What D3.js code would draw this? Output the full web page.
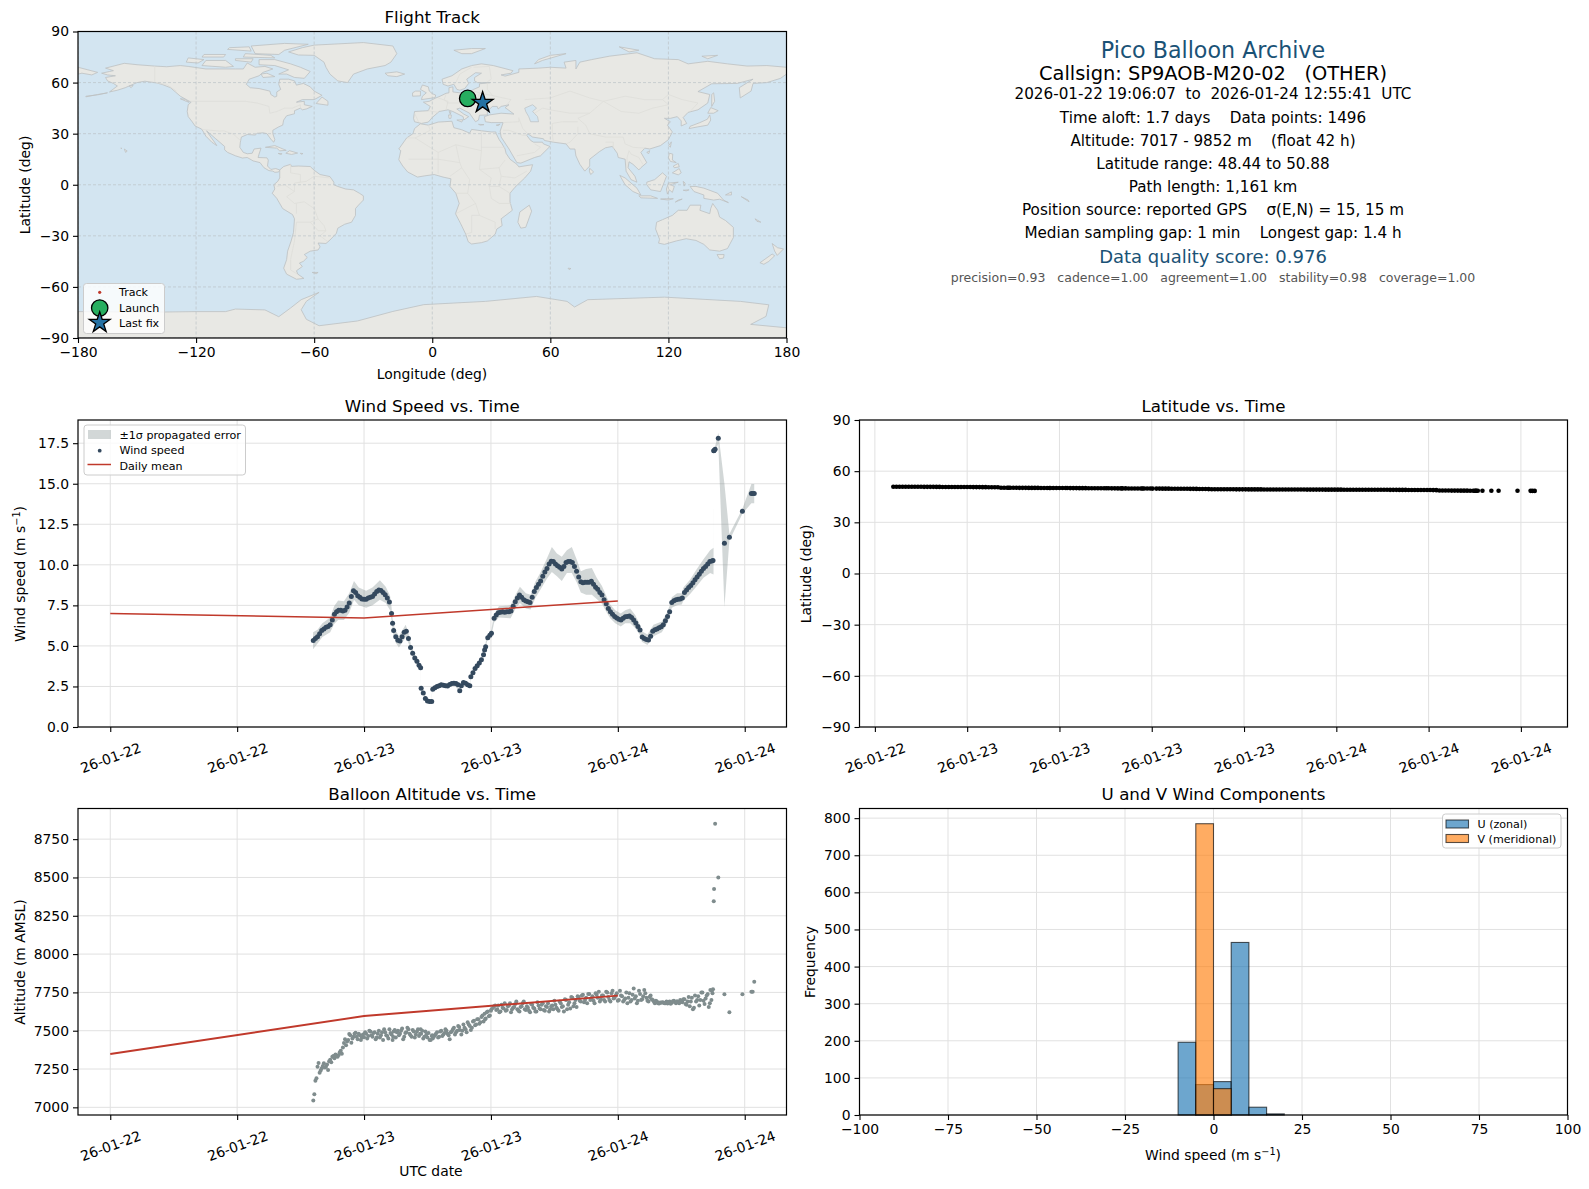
<!DOCTYPE html>
<html>
<head>
<meta charset="utf-8">
<script src="https://cdnjs.cloudflare.com/ajax/libs/d3/7.8.5/d3.min.js"></script>
<style>
body { margin: 0; background: #fff; }
text { font-family: "DejaVu Sans", sans-serif; fill: #000; }
.domain { display: none; }
.tick line { stroke: #000; stroke-width: 1.1; }
.tick text { font-size: 13.9px; }
</style>
</head>
<body>
<div id="chart"></div>
<script>
// time of each fix, hours after 2026-01-22 00:00 UTC
const hours = [
  19.2,19.4,19.6,19.8,20,20.2,20.4,20.6,20.8,21,
  21.2,21.4,21.6,21.8,22,22.2,22.4,22.6,22.8,23,
  23.2,23.4,23.6,23.8,24,24.2,24.4,24.6,24.8,25,
  25.2,25.4,25.6,25.8,26,26.2,26.4,26.6,26.7,26.8,
  27,27.2,27.4,27.6,27.8,28,28.2,28.4,28.6,28.8,
  29,29.2,29.35,29.4,29.6,29.8,30,30.2,30.4,30.5,
  30.7,30.9,31.1,31.3,31.5,31.7,31.9,32.1,32.3,32.5,
  32.7,32.9,33.05,33.2,33.4,33.6,33.8,34,34.1,34.3,
  34.5,34.7,34.9,35.1,35.3,35.4,35.5,35.7,35.9,36.05,
  36.3,36.5,36.7,36.9,37.1,37.3,37.5,37.7,37.9,38.1,
  38.3,38.5,38.7,38.9,39.1,39.3,39.5,39.7,39.9,40.1,
  40.3,40.5,40.7,40.9,41.1,41.3,41.5,41.7,41.9,42.1,
  42.3,42.5,42.7,42.9,43.1,43.3,43.5,43.7,43.9,44.1,
  44.3,44.5,44.7,44.9,45.1,45.3,45.5,45.7,45.9,46.1,
  46.3,46.5,46.7,46.9,47.1,47.3,47.5,47.7,47.9,48.1,
  48.3,48.5,48.7,48.9,49.1,49.3,49.5,49.7,49.9,50.1,
  50.3,50.5,50.7,50.9,51.1,51.3,51.5,51.7,51.9,52.1,
  52.3,52.5,52.7,52.9,53.1,53.3,53.5,53.7,53.9,54.1,
  54.3,54.5,54.7,54.9,55.1,55.3,55.5,55.7,55.9,56.1,
  56.3,56.5,56.7,56.9,57,57.07,57.1,57.2,57.5,58.08,
  58.55,59.78,60.63,60.75,60.9
];
const windSpeed = [
  5.33,5.45,5.57,5.75,5.95,6.05,6.15,6.2,6.3,6.6,
  6.95,7.1,7.2,7.2,7.15,7.2,7.4,7.65,8.05,8.4,
  8.3,8.1,8,7.9,7.87,7.87,7.95,8,8.05,8.2,
  8.35,8.45,8.42,8.3,8.15,7.95,7.7,7,6.4,5.95,
  5.57,5.35,5.3,5.57,5.85,5.9,5.45,4.9,4.55,4.25,
  4.05,3.8,3.66,2.39,2.1,1.75,1.6,1.58,1.57,2.33,
  2.42,2.49,2.55,2.6,2.58,2.55,2.53,2.62,2.68,2.7,
  2.68,2.6,2.24,2.55,2.74,2.7,2.6,2.55,3.1,3.35,
  3.6,3.78,3.95,4.15,4.45,4.75,4.95,5.5,5.65,5.78,
  6.7,6.9,7.05,7.08,7.1,7.08,7.1,7.1,7.15,7.45,
  7.73,7.95,8.14,8,7.85,7.77,7.72,7.68,8,8.35,
  8.6,8.8,9,9.3,9.55,9.78,10.05,10.22,10.2,10.05,
  9.95,9.85,9.74,9.9,10.15,10.2,10.2,10.15,9.9,9.6,
  9.25,8.96,8.9,8.92,8.92,8.93,8.98,8.8,8.62,8.5,
  8.3,8.14,7.85,7.6,7.3,7.1,6.95,6.82,6.72,6.65,
  6.6,6.7,6.8,6.82,6.85,6.75,6.6,6.42,6.2,5.98,
  5.55,5.45,5.4,5.37,5.6,5.9,6,6.05,6.12,6.18,
  6.3,6.55,6.82,7.1,7.67,7.78,7.85,7.88,7.9,7.95,
  8.3,8.45,8.6,8.72,8.9,9.08,9.25,9.42,9.6,9.78,
  9.9,10.05,10.2,10.24,10.26,17.04,17.05,17.12,17.8,11.33,
  11.7,13.3,14.4,14.4,14.4
];
const latitude = [
  50.88,50.87,50.87,50.86,50.85,50.85,50.84,50.83,50.83,50.82,
  50.81,50.8,50.8,50.79,50.78,50.77,50.76,50.75,50.75,50.74,
  50.73,50.72,50.71,50.7,50.69,50.68,50.67,50.66,50.65,50.64,
  50.62,50.6,50.58,50.56,50.54,50.3,50.28,50.27,50.26,50.25,
  50.25,50.24,50.23,50.22,50.21,50.2,50.2,50.19,50.18,50.17,
  50.17,50.16,50.15,50.14,50.13,50.12,50.11,50.1,50.1,50.09,
  50.08,50.07,50.06,50.05,50.04,50.03,50.02,50.01,50,49.98,
  49.97,49.96,49.95,49.94,49.93,49.92,49.91,49.9,49.9,49.89,
  49.88,49.87,49.86,49.85,49.84,49.83,49.82,49.81,49.8,49.79,
  49.78,49.77,49.76,49.75,49.74,49.73,49.72,49.71,49.7,49.68,
  49.66,49.64,49.62,49.6,49.58,49.56,49.54,49.5,49.42,49.41,
  49.4,49.39,49.38,49.38,49.37,49.36,49.35,49.34,49.34,49.33,
  49.32,49.32,49.31,49.3,49.3,49.29,49.28,49.28,49.27,49.26,
  49.26,49.25,49.25,49.24,49.23,49.23,49.22,49.22,49.21,49.2,
  49.2,49.19,49.19,49.18,49.18,49.17,49.17,49.16,49.16,49.15,
  49.15,49.14,49.14,49.13,49.13,49.12,49.12,49.11,49.11,49.1,
  49.1,49.09,49.09,49.08,49.08,49.07,49.06,49.05,49.04,49.03,
  49.02,49.01,49,48.99,48.98,48.97,48.96,48.95,48.94,48.92,
  48.9,48.88,48.66,48.65,48.64,48.63,48.62,48.61,48.6,48.59,
  48.58,48.57,48.56,48.55,48.55,48.54,48.54,48.53,48.53,48.52,
  48.52,48.48,48.45,48.44,48.44
];
const altitude = [
  7044,7174,7265,7225,7255,7287,7265,7244,7310,7330,
  7320,7335,7342,7370,7391,7444,7430,7479,7422,7460,
  7487,7445,7470,7455,7457,7480,7465,7495,7460,7490,
  7455,7500,7470,7440,7490,7465,7510,7475,7440,7495,
  7455,7500,7480,7515,7460,7490,7510,7470,7505,7455,
  7495,7465,7510,7480,7450,7495,7455,7440,7465,7450,
  7470,7490,7460,7500,7475,7510,7480,7445,7495,7520,
  7490,7530,7505,7475,7540,7510,7555,7530,7505,7560,
  7535,7575,7545,7590,7560,7610,7580,7625,7600,7640,
  7660,7635,7665,7625,7650,7680,7635,7665,7620,7650,
  7675,7640,7625,7660,7690,7635,7650,7620,7670,7645,
  7625,7665,7640,7680,7630,7655,7625,7660,7640,7670,
  7640,7690,7655,7625,7700,7670,7645,7715,7680,7655,
  7720,7690,7735,7700,7680,7740,7710,7695,7745,7715,
  7690,7730,7700,7755,7720,7690,7760,7715,7745,7700,
  7730,7690,7710,7680,7745,7700,7775,7725,7695,7740,
  7705,7765,7715,7690,7730,7700,7680,7690,7678,7682,
  7684,7680,7678,7690,7682,7695,7680,7688,7700,7685,
  7705,7670,7720,7690,7640,7730,7700,7665,7750,7695,
  7710,7740,7680,7760,7770,8345,8425,8850,8500,7738,
  7620,7738,7755,7755,7820
];
// further altitude fixes, so the dense cloud is as thick as in the picture
const altHours2 = [
  19.3,19.5,19.7,19.9,20.1,20.3,20.5,20.7,20.9,21.1,
  21.3,21.5,21.7,21.9,22.1,22.3,22.5,22.7,22.9,23.1,
  23.3,23.5,23.7,23.9,24.1,24.3,24.5,24.7,24.9,25.1,
  25.3,25.5,25.7,25.9,26.1,26.3,26.5,26.75,26.9,27.1,
  27.3,27.5,27.7,27.9,28.1,28.3,28.5,28.7,28.9,29.1,
  29.3,29.5,29.7,29.9,30.1,30.3,30.45,30.6,30.8,31,
  31.2,31.4,31.6,31.8,32,32.2,32.4,32.6,32.8,33,
  33.3,33.5,33.7,33.9,34.2,34.4,34.6,34.8,35,35.2,
  35.45,35.6,35.8,36,36.2,36.4,36.6,36.8,37,37.2,
  37.4,37.6,37.8,38,38.2,38.4,38.6,38.8,39,39.2,
  39.4,39.6,39.8,40,40.2,40.4,40.6,40.8,41,41.2,
  41.4,41.6,41.8,42,42.2,42.4,42.6,42.8,43,43.2,
  43.4,43.6,43.8,44,44.2,44.4,44.6,44.8,45,45.2,
  45.4,45.6,45.8,46,46.2,46.4,46.6,46.8,47,47.2,
  47.4,47.6,47.8,48,48.2,48.4,48.6,48.8,49,49.2,
  49.4,49.6,49.8,50,50.2,50.4,50.6,50.8,51,51.2,
  51.4,51.6,51.8,52,52.2,52.4,52.6,52.8,53,53.2,
  53.4,53.6,53.8,54,54.2,54.4,54.6,54.8,55,55.2,
  55.4,55.6,55.8,56,56.2,56.4,56.6,56.75,56.85,56.95
];
const altitude2 = [
  7085,7190,7290,7240,7270,7260,7280,7300,7295,7335,
  7345,7330,7360,7350,7420,7405,7440,7470,7450,7480,
  7460,7480,7440,7475,7490,7450,7500,7470,7485,7445,
  7480,7455,7490,7510,7470,7450,7485,7460,7505,7490,
  7470,7500,7445,7485,7520,7480,7460,7495,7475,7510,
  7480,7500,7460,7475,7485,7440,7470,7460,7480,7455,
  7495,7465,7485,7500,7470,7490,7510,7475,7500,7525,
  7500,7520,7490,7540,7520,7565,7540,7575,7555,7600,
  7575,7620,7595,7630,7650,7665,7640,7620,7670,7645,
  7630,7660,7680,7640,7655,7690,7630,7655,7680,7640,
  7660,7630,7675,7650,7625,7685,7645,7670,7635,7660,
  7680,7640,7665,7695,7650,7630,7680,7660,7705,7640,
  7685,7720,7660,7700,7725,7695,7730,7685,7715,7740,
  7700,7725,7680,7735,7755,7705,7730,7690,7750,7700,
  7745,7710,7730,7695,7760,7725,7700,7750,7715,7690,
  7735,7710,7680,7760,7700,7725,7745,7695,7720,7705,
  7690,7695,7680,7684,7686,7679,7690,7682,7676,7692,
  7685,7692,7680,7695,7705,7675,7690,7660,7715,7650,
  7690,7725,7700,7750,7675,7730,7655,7765,7700,7745
];

// +/- 1 sigma band around the wind speed
const bandHours = [19.18,19.6,20.06,20.8,21.17,21.55,22.1,22.6,23.05,23.5,24.2,24.8,25.5,26.05,26.46,26.6,26.74,27,27.3,27.6,27.94,28.25,28.47,28.9,29.35,29.39,29.7,29.98,30.36,30.46,31.4,32.5,33.04,33.4,34,34.1,34.55,35.2,35.4,35.66,36.03,36.3,36.75,37.86,38.33,38.74,39.3,39.75,40.2,40.66,41.3,41.76,42.24,42.7,43.18,43.65,44.13,44.5,45,45.54,46,46.5,46.96,47.28,47.75,48.28,48.7,49.17,49.64,50.1,50.27,50.8,51.37,52.16,52.63,52.95,53.1,53.6,54.05,54.2,54.84,55.47,56.1,56.73,57.05,57.07,57.2,57.5,58.08,58.55,59.78,60.63,60.9];
const bandLow = [4.8,5.15,5.55,5.85,6.35,6.6,6.6,7.05,7.85,7.5,7.35,7.5,7.85,7.65,7.2,6.6,5.75,5.2,4.9,5.2,5.55,5.1,4.55,3.95,3.55,2.3,1.9,1.55,1.52,2.25,2.52,2.62,2.16,2.66,2.47,3,3.5,4.08,4.6,5.35,5.6,6.45,6.75,6.7,7.3,7.65,7.3,7.25,7.95,8.45,9.15,9.55,9.3,9,9.5,9.5,8.9,8.3,8.15,8.15,7.9,7.6,7.05,6.7,6.4,6.2,6.4,6.4,6.1,5.65,5.25,5.05,5.6,5.85,6.35,6.85,7.35,7.5,7.55,7.8,8.2,8.7,9.2,9.5,9.4,16.95,17,17.45,7.4,11.5,13.15,13.8,13.8];
const bandHigh = [5.85,6,6.4,6.75,7.45,7.8,7.75,8.25,9,8.6,8.4,8.6,9.05,8.65,8.1,7.4,6.4,5.95,5.6,5.95,6.3,5.65,4.95,4.3,3.77,2.48,2.06,1.67,1.62,2.4,2.66,2.78,2.32,2.82,2.63,3.2,3.74,4.4,4.9,5.7,5.96,6.95,7.45,7.5,8.15,8.65,8.25,8.15,8.95,9.5,10.4,11.1,10.7,10.5,10.9,11.1,10.3,9.6,9.75,9.8,9.2,8.7,8,7.55,7.2,7,7.2,7.3,6.9,6.3,5.9,5.7,6.3,6.5,7.05,7.55,8,8.25,8.25,8.6,9.1,9.75,10.35,10.9,11.05,17.15,17.3,18.15,15,11.9,13.45,14.98,14.98];

// daily means, plotted at 00:00 of each day
const dailyHours = [0, 24, 48];
const dailyWind = [7.0, 6.72, 7.77];
const dailyAlt = [7348, 7596, 7729];

const wideTicks = [0, 12, 24, 36, 48, 60];
const latTimeTicks = [18, 24, 30, 36, 42, 48, 54, 60];
const windTicks = [0, 2.5, 5, 7.5, 10, 12.5, 15, 17.5];
const latTicks = [-90, -60, -30, 0, 30, 60, 90];
const lonTicks = [-180, -120, -60, 0, 60, 120, 180];
const altTicks = [7000, 7250, 7500, 7750, 8000, 8250, 8500, 8750];
const histXTicks = [-100, -75, -50, -25, 0, 25, 50, 75, 100];
const histYTicks = [0, 100, 200, 300, 400, 500, 600, 700, 800];

// histogram counts, bins from -100 in steps of 5
const binStarts = [-100,-95,-90,-85,-80,-75,-70,-65,-60,-55,-50,-45,-40,-35,-30,-25,-20,-15,-10,-5,0,5,10,15,20,25,30,35,40,45,50,55,60,65,70,75,80,85,90,95];
const uCounts = [0,0,0,0,0,0,0,0,0,0,0,0,0,0,0,0,0,0,196,82,90,465,21,3,0,0,0,0,0,0,0,0,0,0,0,0,0,0,0,0];
const vCounts = [0,0,0,0,0,0,0,0,0,0,0,0,0,0,0,0,0,0,0,785,71,0,0,0,0,0,0,0,0,0,0,0,0,0,0,0,0,0,0,0];

// ground track
const trackLon = [18, 19.2, 20.4, 21.6, 22.8, 24, 25.6];
const trackLat = [50.7, 50.3, 49.9, 49.5, 49.2, 48.9, 48.2];
const launchPoint = [18, 50.7];
const lastFixPoint = [25.6, 48.2];

// coastlines, lon/lat, traced by eye
const northAmerica = [[-168,65.5],[-164,66.5],[-162,67],[-166,68.5],[-156.5,71.3],[-150,70.5],[-141,69.7],[-135,69.3],[-128,70],[-124,69.5],[-115,68],[-108,68],[-100,68],[-96,68],[-94,71.5],[-90,69],[-85,69.5],[-81,68],[-86,66],[-88,64],[-93,62],[-94.5,59],[-92.5,57],[-88,56.5],[-82.5,55],[-82,53],[-80,51.5],[-79,52],[-79,54.5],[-77,56],[-78,59],[-77.5,62],[-73,62],[-70,61],[-69,58.5],[-65.5,59.5],[-62,57.5],[-60,55],[-56,52.5],[-60,50],[-66,50],[-69,48.5],[-65,49],[-65,47],[-61,46],[-64,44.5],[-66,44],[-67,45],[-70,43.5],[-70,41.7],[-74,40.5],[-75.5,38],[-76,35],[-78,34],[-81,32],[-81,30],[-80,26.5],[-80.5,25],[-81.5,26],[-82.8,28],[-84,30],[-86,30.5],[-89,30.2],[-90,29.2],[-94,29.5],[-97,28],[-97.5,25],[-97.8,22],[-96,19],[-94,18.2],[-91.5,18.5],[-90.5,21],[-87,21.5],[-88,18],[-88.5,16],[-84,15.8],[-83.3,14.5],[-83.7,11],[-82,9],[-79.5,9.5],[-77.5,8.7],[-78,7.5],[-80,7.3],[-81,8],[-83,8.3],[-85.5,10],[-87.5,13],[-91,14],[-94,16],[-96.5,15.7],[-100,17],[-104,19],[-105.5,20.5],[-105.5,22.5],[-108,25],[-110,27],[-112.5,29.5],[-114.7,31.7],[-112.5,28],[-110,24],[-109.5,23],[-112,25],[-115,28.5],[-116.5,31.5],[-117.2,32.7],[-120.5,34.5],[-122,37],[-124,40],[-124.5,43],[-124,47],[-122.5,48.5],[-125,50],[-128,52],[-130.5,54.5],[-133,57],[-137,58.8],[-140,59.8],[-146,60.8],[-150,60],[-152,59],[-156,57],[-160,55.5],[-164,54.5],[-160,58],[-162,59.5],[-165,61],[-166,63],[-161,64],[-165,64.5]];
const greenland = [[-73,78],[-66,80.5],[-60,82],[-35,83.5],[-20,81.5],[-18,77],[-21,72],[-24,70],[-33,68],[-40,65],[-43,60],[-48,61],[-52,65],[-54,69],[-55,72],[-60,76],[-68,76.2]];
const southAmerica = [[-77.5,8.7],[-75.5,10.7],[-72,12],[-71.5,10.8],[-68,11],[-62,10.7],[-60,8.5],[-57,6],[-52,4.8],[-50,1.5],[-50,0],[-48,-1],[-44,-2.5],[-40,-3],[-37,-5],[-35,-6.5],[-35,-9],[-37.5,-12],[-39,-14],[-39,-18],[-41,-22],[-44.5,-23.2],[-48,-25.5],[-48.7,-28.5],[-52,-32.5],[-54,-34.5],[-58,-34.2],[-57,-36.5],[-58,-38.3],[-62,-39],[-65,-41],[-63.5,-42.7],[-65.5,-45],[-67.5,-46],[-66,-48],[-69,-50.5],[-68.3,-52.5],[-65.2,-55],[-69,-55.5],[-74,-52.5],[-75.5,-49],[-74,-44],[-73.5,-39],[-71.7,-33],[-70.5,-28],[-70,-20],[-71,-17.5],[-76,-14],[-79,-8],[-81.3,-5],[-80,-2.5],[-80.5,0],[-78.5,2],[-77.5,4],[-77.5,7]];
const africa = [[-6,35.8],[-2,35],[3,36.8],[10,37.3],[11,33.5],[15,32.3],[19,30.3],[20,32.5],[25,31.7],[30,31],[32.3,31],[32.5,30],[34,26.5],[35.5,24],[37,21],[37.5,18.5],[39.5,15],[43,12],[44,10.5],[51,11.8],[50,8],[47,4],[42,-1.5],[39.5,-5],[39.5,-10],[40.7,-15],[35,-20],[35.5,-24],[32.8,-26],[32,-29],[28,-33],[25,-34],[20,-34.8],[18.3,-33.5],[17,-29],[14.5,-23],[11.8,-17],[13.7,-11],[12,-5],[9,-1],[9.5,3.5],[5.5,4.5],[1,6],[-4,5.2],[-7.5,4.5],[-12.5,7.5],[-15,11],[-17,14.7],[-16,20],[-17,21],[-13,27.5],[-9.8,30],[-9,33]];
const eurasia = [[-5.5,36],[-9,37],[-9.5,39],[-9,43],[-2,43.5],[-1,46],[-4.5,48.5],[-1.5,49],[1.5,50.8],[4,52],[7,53.7],[8.5,54],[8.5,57],[10.5,57.5],[10.5,54.5],[14,54],[19,54.5],[21,56],[24,57.5],[24,59.3],[29.5,60],[23,60],[21.5,61],[21.5,63],[25,65.5],[22,65.8],[17.5,62],[18.5,59.5],[16.5,56.5],[14,55.5],[12.5,56],[11,59],[8,58],[5.5,59],[5,62],[10,64],[15,68],[20,70],[25,71],[31,70],[41,67],[40,65.5],[35,64.5],[37,63.8],[44,66],[44,68],[54,68.5],[60,69],[68,68.5],[67,72],[73,73],[73,68],[75,72],[81,73.5],[90,75.5],[104,77.5],[113,74],[125,73.5],[130,71],[140,72.5],[150,71],[160,69.7],[170,70],[180,69],[180,65],[177,62.5],[170,60],[163,59.5],[162,55],[156.5,51],[156,57],[163,62],[155,59.5],[142,59.3],[135,54.7],[141,53],[140,48],[135,44],[130,42.5],[127.5,39.5],[129.3,36],[126.5,34.5],[126.5,37.5],[124.5,40],[121,39],[118,39],[121,37],[119.5,35],[122,31],[120,26.5],[116,23],[110.5,21],[108,21.5],[106,19],[109,13],[106,10],[105,8.7],[102,12],[100,13.5],[99.5,10],[103,5],[104,1.5],[101,3],[98.5,8],[98,15],[94.5,16],[94,18.5],[91.5,22.5],[88,21.7],[85,19.5],[80,15],[80,11],[77.5,8],[75,12],[73,17],[72.5,21],[70,21],[68,24],[61.5,25],[57,26],[56.5,27],[51,28],[48.5,30],[48,29],[50,26],[51.5,25],[56,25],[56.5,24],[59.8,22.5],[55,17],[52,16],[45,12.7],[43,13],[39,21],[35,28],[34.5,31.5],[36,36.5],[30,36.5],[27,37],[26.5,40],[29,41],[35,42],[41.5,41.5],[38,44.5],[37,45.3],[39,47],[35,46],[33.5,44.5],[33,46],[30.5,46],[28,43],[28,41],[24,40.8],[23.5,38],[22,37],[19.5,41],[19,42],[14,45],[12.5,44.5],[16,41.5],[18.5,40],[16,38],[15.7,40],[10.5,43],[8,44],[3.5,43],[0,39.5],[-2,36.8]];
const chukotka = [[-180,69],[-175,67.5],[-170,66],[-173,64.5],[-178,65.5],[-180,65]];
const australia = [[114,-22],[113.5,-26],[115.5,-32],[115,-34.3],[118,-35],[124,-33],[129,-31.7],[134,-32.7],[138,-35],[141,-38.3],[146,-39],[150,-37.5],[153,-31],[153,-25],[149,-21],[146,-19],[145,-15],[142.5,-11],[141.5,-14],[141,-17],[136,-15],[136.5,-12],[131,-12],[129.5,-15],[125,-15],[122,-18],[117,-20.5]];
const antarctica = [[-180,-90],[-180,-74.5],[-140,-74.8],[-120,-74.5],[-105,-74.5],[-100,-73],[-85,-73.5],[-78,-77.5],[-72,-72.4],[-66.6,-67.5],[-57.5,-63.2],[-64,-68.5],[-66.6,-73.4],[-64,-79],[-57.5,-82.8],[-38,-80],[-20,-74.4],[-4.3,-70.4],[27,-68.5],[53,-65.6],[68.5,-68.5],[72.3,-71.8],[79,-67.5],[118,-66],[156.6,-68.5],[171,-70.5],[169.6,-77.3],[161.8,-82],[180,-84],[180,-90]];
const islands = [
  [[-80,73.5],[-72,71],[-67,69],[-62,66.5],[-65,62.5],[-70,63],[-74,65],[-78,65],[-73,67.5],[-80,70],[-88,70.5],[-88,73.5]],
  [[-117,70],[-105,69],[-101,69.5],[-105,73],[-115,73]],
  [[-90,77],[-78,76.5],[-75,79],[-63,82.5],[-75,83],[-92,81.5]],
  [[-125,72],[-119,71.5],[-116,73.5],[-124,74.5]],
  [[-96,75],[-80,74.5],[-82,76],[-95,77]],
  [[-117,75],[-106,75],[-105,76.5],[-116,76.5]],
  [[-104,79.5],[-92,78.5],[-93,81],[-103,80.5]],
  [[-100,73],[-92,72],[-91,74],[-100,74]],
  [[-84,65.5],[-80,63.5],[-86,63],[-87,65]],
  [[-59,47.7],[-53,46.7],[-53,49],[-56,51.5]],
  [[-128,50.5],[-125,49],[-123.5,48.4],[-125.5,50.2]],
  [[-84.8,22],[-80,23],[-74.2,20.2],[-77.5,19.9],[-79,21.5]],
  [[-74.4,18.5],[-72.5,20],[-68.4,18.6],[-71.5,17.8]],
  [[-78.3,18.4],[-76.3,18.2],[-77,17.8]],
  [[-67,18.5],[-65.7,18.3],[-66.5,17.9]],
  [[-156.5,21],[-155,19.8],[-155.8,19]],
  [[-158.3,21.6],[-157.7,21.4],[-158,21.2]],
  [[-176,52],[-170,52.8],[-165,54],[-170,53],[-176,51.6]],
  [[-154,58],[-152,58.3],[-153,57]],
  [[-5.5,50],[1.5,51.2],[1.7,52.7],[0,53.5],[-1.5,55],[-2,57.5],[-5,58.6],[-6,56],[-3,54],[-5,52]],
  [[-10,52],[-6,52.2],[-6,55],[-8.5,55],[-10,54]],
  [[-24,65.5],[-18,66.3],[-14,65],[-18,63.5],[-22.5,64]],
  [[11,79],[20,80],[27,80],[20,77],[15,77]],
  [[52,71],[56,73],[68,77],[60,76],[54,73.5]],
  [[137,75.5],[145,76],[140,74]],
  [[95,81],[105,79],[100,78]],
  [[12.5,38],[15.5,38.2],[15,36.8]],
  [[8.3,41],[9.7,41],[9.5,39],[8.5,39]],
  [[8.6,43],[9.5,42.8],[9.2,41.4]],
  [[23.5,35.5],[26.3,35.3],[24.5,35]],
  [[32.5,35],[34.5,35.6],[33.5,34.7]],
  [[130.5,33],[135,34],[140,35],[141.5,38],[141,41],[139.8,38.5],[136,36.5],[131,34.3]],
  [[140,42],[141.5,45.3],[145.3,43.5],[143,42]],
  [[142,46],[143.5,49],[143,54],[142,53]],
  [[80,9.7],[82,7.5],[80.5,6],[79.8,8]],
  [[120.2,23],[121.5,25.2],[121,22]],
  [[109,19],[110.5,20],[110,18.3]],
  [[120,16],[120.5,18.5],[122.2,18],[122,14.5],[124,13],[121,13.7]],
  [[122,7],[125.5,9.5],[126.5,7],[125,5.8]],
  [[122.5,11],[125,12.5],[125.5,10.5],[123,10]],
  [[109,1.5],[113,3],[117,7],[119,5],[117.7,1],[116,-4],[111,-3],[109,0]],
  [[95.3,5.5],[98,4],[104,-2],[106,-6],[102,-4],[98,0]],
  [[105,-6.5],[111,-6.5],[114.5,-8],[106,-7.7]],
  [[116,-8.4],[119,-8.2],[122.5,-8.2],[120,-9]],
  [[119.5,-5.5],[119,-2.5],[120,1],[125,1.5],[121,0],[123,-1],[122,-4.5],[120.5,-3]],
  [[127.5,2],[128.5,1],[128,-0.8]],
  [[127.5,-3.2],[130.5,-3],[129,-3.6]],
  [[131,-1],[134,-1],[138,-2],[145,-5],[148,-9],[150.5,-10.5],[146,-8.5],[143,-9],[138,-8],[138,-6],[133,-4]],
  [[149,-6],[152,-4.2],[152,-6]],
  [[157,-7],[160.5,-9],[161,-10]],
  [[123.5,-10.2],[127,-8.4],[125,-9]],
  [[144.7,-41],[148.3,-41],[148,-43],[146,-43.5]],
  [[172.7,-34.5],[175.5,-37],[178.5,-37.7],[175.3,-41.5],[174,-39]],
  [[172.7,-40.7],[174,-41.7],[171,-45],[168.5,-46.7],[166.5,-45.8]],
  [[49.3,-12],[50.5,-15.5],[47.5,-25],[45,-25.5],[43.5,-22],[44.5,-16]],
  [[164,-20],[167,-22],[165,-21.5]],
  [[-61,-51.5],[-58,-51.5],[-59,-52.3]],
  [[69,-49],[70.5,-49.2],[69.5,-49.8]]
];
const caspian = [[47,45],[51,47],[53,45],[51,43],[53.5,40],[54,37],[50,37],[49,40],[47.5,43]];
const borders = [
  [[-123,49],[-95,49],[-89,48],[-83,46],[-82.5,42],[-79,43],[-75,45],[-71,45],[-67,47],[-67,45]],
  [[-141,69.7],[-141,60],[-135,59],[-130,55]],
  [[-117,32.5],[-108,31.5],[-106,31.7],[-101,29.7],[-97.5,26]],
  [[-52,4],[-60,5],[-64,2],[-70,1],[-70,-4],[-74,-7],[-70,-11],[-65,-10],[-60,-14],[-58,-20],[-55,-24],[-54,-27],[-57,-30],[-53,-33.5]],
  [[-69,-22],[-70,-33],[-72,-44],[-72,-50],[-68.5,-52.5]],
  [[-69,-17],[-69,-11]],
  [[-69,-22],[-62,-22],[-58,-20]],
  [[-62,-22],[-58,-27],[-54,-27]],
  [[-72,12],[-72,7],[-67,6],[-67,1.5]],
  [[-79,-1],[-75,0],[-70,-4]],
  [[-13,27.5],[-8.7,27.5],[-1,32],[-2,35]],
  [[-8.7,27.5],[3,19],[12,23.5],[25,20],[25,31.7]],
  [[25,22],[37,22]],
  [[25,20],[24,9],[34,10],[37,14.5]],
  [[12,23.5],[14,13],[15,10],[9,5]],
  [[3,19],[3,12],[3,6.5]],
  [[-12,15],[-5,15],[3,15],[14,13]],
  [[34,10],[35,5],[42,4],[48,8]],
  [[35,5],[34,-1],[39.5,-5]],
  [[34,-1],[29,-1],[30,-8],[34,-11],[40,-11]],
  [[12,-5],[18,-5],[22,-11],[12,-17]],
  [[22,-11],[24,-18],[20,-18],[20,-28],[17,-29]],
  [[24,-18],[32,-22],[32,-26]],
  [[29,-1],[30,4],[24,9]],
  [[15,10],[19,3],[18,-5]],
  [[-9,42],[-7,37]],
  [[-2,43.5],[3,42.5]],
  [[3,51],[8,49],[7,44]],
  [[7,53],[6,50],[8,48],[13,48],[17,48],[23,48]],
  [[14,54],[15,51],[19,49.5],[23,49],[24,54],[21,55]],
  [[23,48],[28,45.5]],
  [[24,54],[32,52],[40,50],[38,47]],
  [[28,59.5],[28,56],[31,52]],
  [[21,69],[29,69.5],[30,62],[28,60.5]],
  [[20,69],[14,65],[12,60],[11,59]],
  [[47,50],[60,51],[70,55],[80,51],[87,49]],
  [[87,49],[98,52],[108,50],[117,50],[120,53],[127,50],[135,48],[131,43]],
  [[87,49],[96,43],[105,42],[112,45],[120,47],[117,50]],
  [[87,49],[80,42],[74,39],[78,35],[80,30],[88,28],[97,28],[98,24],[102,22],[108,21.5]],
  [[44,39],[46,33],[48.5,30]],
  [[61,36],[61,30],[61.5,25]],
  [[74,34],[74,30],[70,25],[68,24]],
  [[36,36.5],[44,37],[44,39.5]],
  [[52,42],[56,45],[60,44],[70,42],[80,42]],
  [[61,36],[66,37],[74,37]],
  [[36,32],[39,32],[46,29],[48,29]],
  [[43,17],[52,19],[55,22],[52,24]],
  [[100,20],[101,18],[105,16],[107,12]],
  [[99,10],[99,16],[100,20]],
  [[88,25],[92,25],[92,21]]
];
const landShapes = [northAmerica, greenland, southAmerica, africa, eurasia, chukotka, australia, antarctica, ...islands];

// text block, top right
const infoLines = [
  { text: "Pico Balloon Archive", y: 58, size: 22.2, color: "#1a5276" },
  { text: "Callsign: SP9AOB-M20-02   (OTHER)", y: 80, size: 19.4, color: "#000" },
  { text: "2026-01-22 19:06:07  to  2026-01-24 12:55:41  UTC", y: 99, size: 15.2, color: "#000" },
  { text: "Time aloft: 1.7 days    Data points: 1496", y: 122.5, size: 15.2, color: "#000" },
  { text: "Altitude: 7017 - 9852 m    (float 42 h)", y: 145.5, size: 15.2, color: "#000" },
  { text: "Latitude range: 48.44 to 50.88", y: 168.5, size: 15.2, color: "#000" },
  { text: "Path length: 1,161 km", y: 192, size: 15.2, color: "#000" },
  { text: "Position source: reported GPS    \u03c3(E,N) = 15, 15 m", y: 215, size: 15.2, color: "#000" },
  { text: "Median sampling gap: 1 min    Longest gap: 1.4 h", y: 238, size: 15.2, color: "#000" },
  { text: "Data quality score: 0.976", y: 263, size: 18, color: "#1a5276" },
  { text: "precision=0.93   cadence=1.00   agreement=1.00   stability=0.98   coverage=1.00", y: 282, size: 12.5, color: "#555" }
];

const svg = d3.select("#chart").append("svg")
  .attr("width", 1589).attr("height", 1189)
  .attr("viewBox", "0 0 1589 1189")
  .style("display", "block");

const toDate = h => new Date(Date.UTC(2026, 0, 22) + h * 3600000);
const gridColor = "#e1e1e1";
const labelSize = "13.9px";
const legendSize = "11.1px";

function makePanel(box, title, id) {
  const g = svg.append("g");
  g.append("defs").append("clipPath").attr("id", id).append("rect")
    .attr("x", box.left).attr("y", box.top)
    .attr("width", box.right - box.left).attr("height", box.bottom - box.top);
  g.append("text")
    .attr("x", (box.left + box.right) / 2).attr("y", box.top - 8.3)
    .attr("text-anchor", "middle").style("font-size", "16.7px")
    .text(title);
  return g;
}

function drawGrid(g, box, x, y, xValues, yValues, color, dash, width) {
  g.append("g").selectAll("line").data(xValues).join("line")
    .attr("x1", d => x(d)).attr("x2", d => x(d))
    .attr("y1", box.top).attr("y2", box.bottom)
    .attr("stroke", color).attr("stroke-width", width).attr("stroke-dasharray", dash);
  g.append("g").selectAll("line").data(yValues).join("line")
    .attr("x1", box.left).attr("x2", box.right)
    .attr("y1", d => y(d)).attr("y2", d => y(d))
    .attr("stroke", color).attr("stroke-width", width).attr("stroke-dasharray", dash);
}

function drawFrame(g, box) {
  g.append("rect")
    .attr("x", box.left).attr("y", box.top)
    .attr("width", box.right - box.left).attr("height", box.bottom - box.top)
    .attr("fill", "none").attr("stroke", "#000").attr("stroke-width", 1.2);
}

function drawAxes(g, box, xAxis, yAxis, rotate) {
  const xg = g.append("g").attr("transform", `translate(0,${box.bottom})`)
    .call(xAxis.tickSize(5).tickPadding(4));
  if (rotate) {
    xg.selectAll("text")
      .attr("y", 0).attr("dy", "0.35em")
      .attr("transform", "translate(0,31) rotate(-20)");
  }
  g.append("g").attr("transform", `translate(${box.left},0)`)
    .call(yAxis.tickSize(5).tickPadding(4));
}

function addUnitLabel(sel) {
  sel.append("tspan").text("Wind speed (m s");
  sel.append("tspan").text("\u22121").attr("dy", -5).style("font-size", "9.7px");
  sel.append("tspan").text(")").attr("dy", 5);
}

function drawLegendBox(g, x, y, w, h) {
  g.append("rect")
    .attr("x", x).attr("y", y).attr("width", w).attr("height", h).attr("rx", 3)
    .attr("fill", "#fff").attr("fill-opacity", 0.8).attr("stroke", "#ccc").attr("stroke-width", 1);
}

// Flight track map
const mapBox = { left: 78, right: 786.5, top: 31.5, bottom: 338 };
const mapG = makePanel(mapBox, "Flight Track", "clip-map");
const mapX = d3.scaleLinear().domain([-180, 180]).range([mapBox.left, mapBox.right]);
const mapY = d3.scaleLinear().domain([-90, 90]).range([mapBox.bottom, mapBox.top]);
const mapLine = d3.line().x(d => mapX(d[0])).y(d => mapY(d[1]));
const oceanColor = "#d3e5f1";
const coastColor = "#bcc0c2";

const mapInner = mapG.append("g").attr("clip-path", "url(#clip-map)");
mapInner.append("rect")
  .attr("x", mapBox.left).attr("y", mapBox.top)
  .attr("width", mapBox.right - mapBox.left).attr("height", mapBox.bottom - mapBox.top)
  .attr("fill", oceanColor);
mapInner.selectAll(".land").data(landShapes).join("path")
  .attr("class", "land")
  .attr("d", d => mapLine(d) + "Z")
  .attr("fill", "#e8e8e4").attr("stroke", coastColor).attr("stroke-width", 0.8);
mapInner.append("path")
  .attr("d", mapLine(caspian) + "Z")
  .attr("fill", oceanColor).attr("stroke", coastColor).attr("stroke-width", 0.7);
mapInner.selectAll(".border").data(borders).join("path")
  .attr("class", "border")
  .attr("d", mapLine)
  .attr("fill", "none").attr("stroke", "#dcdcd8").attr("stroke-width", 0.7);
drawGrid(mapInner, mapBox, mapX, mapY, lonTicks, latTicks, "#bcc3c7", "3,2", 0.7);

mapInner.selectAll(".track").data(trackLon).join("circle")
  .attr("class", "track")
  .attr("cx", d => mapX(d)).attr("cy", (d, i) => mapY(trackLat[i]))
  .attr("r", 1.6).attr("fill", "#c0392b");
mapInner.append("circle")
  .attr("cx", mapX(launchPoint[0])).attr("cy", mapY(launchPoint[1]))
  .attr("r", 8.2).attr("fill", "#27ae60").attr("stroke", "#000").attr("stroke-width", 1.3);
const starPath = d3.symbol().type(d3.symbolStar).size(135)();
mapInner.append("path")
  .attr("d", starPath)
  .attr("transform", `translate(${mapX(lastFixPoint[0])},${mapY(lastFixPoint[1])})`)
  .attr("fill", "#2471a3").attr("stroke", "#000").attr("stroke-width", 1.3);

const mapLegend = mapG.append("g");
drawLegendBox(mapLegend, 83.5, 283.5, 81, 50);
mapLegend.append("circle").attr("cx", 99.7).attr("cy", 292.3).attr("r", 1.6).attr("fill", "#c0392b");
mapLegend.append("circle").attr("cx", 99.7).attr("cy", 308).attr("r", 8.2)
  .attr("fill", "#27ae60").attr("stroke", "#000").attr("stroke-width", 1.3);
mapLegend.append("path").attr("d", starPath)
  .attr("transform", "translate(99.7,322.7)")
  .attr("fill", "#2471a3").attr("stroke", "#000").attr("stroke-width", 1.3);
mapLegend.selectAll("text").data(["Track", "Launch", "Last fix"]).join("text")
  .attr("x", 119).attr("y", (d, i) => [296, 311.5, 326.5][i])
  .style("font-size", legendSize).text(d => d);

drawFrame(mapG, mapBox);
drawAxes(mapG, mapBox,
  d3.axisBottom(mapX).tickValues(lonTicks).tickFormat(d3.format("d")),
  d3.axisLeft(mapY).tickValues(latTicks).tickFormat(d3.format("d")), false);
mapG.append("text").attr("x", 432).attr("y", 379).attr("text-anchor", "middle")
  .style("font-size", labelSize).text("Longitude (deg)");
mapG.append("text").attr("transform", "translate(30,185) rotate(-90)").attr("text-anchor", "middle")
  .style("font-size", labelSize).text("Latitude (deg)");

// Info text
svg.append("g").selectAll("text").data(infoLines).join("text")
  .attr("x", 1213).attr("y", d => d.y)
  .attr("text-anchor", "middle")
  .attr("xml:space", "preserve").style("white-space", "pre")
  .style("font-size", d => d.size + "px").style("fill", d => d.color)
  .text(d => d.text);

// Shared x scale for the two left time panels
const timeDomain = [toDate(-3.05), toDate(63.95)];

// Wind speed vs time
const windBox = { left: 78, right: 786.5, top: 420, bottom: 727 };
const windG = makePanel(windBox, "Wind Speed vs. Time", "clip-wind");
const windX = d3.scaleUtc().domain(timeDomain).range([windBox.left, windBox.right]);
const windY = d3.scaleLinear().domain([0, 18.93]).range([windBox.bottom, windBox.top]);
const bandColor = "#7f8c8d";
drawGrid(windG, windBox, windX, windY, wideTicks.map(toDate), windTicks, gridColor, null, 1);
const windInner = windG.append("g").attr("clip-path", "url(#clip-wind)");
windInner.append("path")
  .datum(bandHours)
  .attr("d", d3.area()
    .x(d => windX(toDate(d)))
    .y0((d, i) => windY(bandLow[i]))
    .y1((d, i) => windY(bandHigh[i])))
  .attr("fill", bandColor).attr("fill-opacity", 0.35);
windInner.selectAll(".dot").data(hours).join("circle")
  .attr("class", "dot")
  .attr("cx", d => windX(toDate(d))).attr("cy", (d, i) => windY(windSpeed[i]))
  .attr("r", 2.5).attr("fill", "#34495e");
windInner.append("path")
  .datum(dailyHours)
  .attr("d", d3.line().x(d => windX(toDate(d))).y((d, i) => windY(dailyWind[i])))
  .attr("fill", "none").attr("stroke", "#c0392b").attr("stroke-width", 1.5);
const windLegend = windG.append("g");
drawLegendBox(windLegend, 84, 425, 161.5, 50);
windLegend.append("rect").attr("x", 88).attr("y", 430).attr("width", 23).attr("height", 9)
  .attr("fill", bandColor).attr("fill-opacity", 0.35);
windLegend.append("circle").attr("cx", 99.7).attr("cy", 450.7).attr("r", 1.9).attr("fill", "#34495e");
windLegend.append("line").attr("x1", 87.5).attr("x2", 111).attr("y1", 464.5).attr("y2", 464.5)
  .attr("stroke", "#c0392b").attr("stroke-width", 1.5);
windLegend.selectAll("text").data(["\u00b11\u03c3 propagated error", "Wind speed", "Daily mean"]).join("text")
  .attr("x", 119.5).attr("y", (d, i) => [439, 454, 470][i])
  .style("font-size", legendSize).text(d => d);
drawFrame(windG, windBox);
const dateFmt = d3.utcFormat("%y-%m-%d");
drawAxes(windG, windBox,
  d3.axisBottom(windX).tickValues(wideTicks.map(toDate)).tickFormat(dateFmt),
  d3.axisLeft(windY).tickValues(windTicks).tickFormat(d3.format(".1f")), true);
windG.append("text").attr("transform", "translate(25,574) rotate(-90)").attr("text-anchor", "middle")
  .style("font-size", labelSize).call(addUnitLabel);

// Latitude vs time
const latBox = { left: 859.5, right: 1567.5, top: 420, bottom: 727 };
const latG = makePanel(latBox, "Latitude vs. Time", "clip-lat");
const latX = d3.scaleUtc().domain([toDate(17), toDate(63.03)]).range([latBox.left, latBox.right]);
const latY = d3.scaleLinear().domain([-90, 90]).range([latBox.bottom, latBox.top]);
drawGrid(latG, latBox, latX, latY, latTimeTicks.map(toDate), latTicks, gridColor, null, 1);
latG.append("g").attr("clip-path", "url(#clip-lat)")
  .selectAll("circle").data(hours).join("circle")
  .attr("cx", d => latX(toDate(d))).attr("cy", (d, i) => latY(latitude[i]))
  .attr("r", 2.3).attr("fill", "#000");
drawFrame(latG, latBox);
drawAxes(latG, latBox,
  d3.axisBottom(latX).tickValues(latTimeTicks.map(toDate)).tickFormat(dateFmt),
  d3.axisLeft(latY).tickValues(latTicks).tickFormat(d3.format("d")), true);
latG.append("text").attr("transform", "translate(811,574) rotate(-90)").attr("text-anchor", "middle")
  .style("font-size", labelSize).text("Latitude (deg)");

// Altitude vs time
const altBox = { left: 78, right: 786.5, top: 808.5, bottom: 1115 };
const altG = makePanel(altBox, "Balloon Altitude vs. Time", "clip-alt");
const altX = d3.scaleUtc().domain(timeDomain).range([altBox.left, altBox.right]);
const altY = d3.scaleLinear().domain([6950, 8950]).range([altBox.bottom, altBox.top]);
drawGrid(altG, altBox, altX, altY, wideTicks.map(toDate), altTicks, gridColor, null, 1);
const altInner = altG.append("g").attr("clip-path", "url(#clip-alt)");
altInner.selectAll(".alt1").data(hours).join("circle")
  .attr("class", "alt1")
  .attr("cx", d => altX(toDate(d))).attr("cy", (d, i) => altY(altitude[i]))
  .attr("r", 2).attr("fill", "#7f8c8d");
altInner.selectAll(".alt2").data(altHours2).join("circle")
  .attr("class", "alt2")
  .attr("cx", d => altX(toDate(d))).attr("cy", (d, i) => altY(altitude2[i]))
  .attr("r", 2).attr("fill", "#7f8c8d");
altInner.append("path")
  .datum(dailyHours)
  .attr("d", d3.line().x(d => altX(toDate(d))).y((d, i) => altY(dailyAlt[i])))
  .attr("fill", "none").attr("stroke", "#c0392b").attr("stroke-width", 1.9);
drawFrame(altG, altBox);
drawAxes(altG, altBox,
  d3.axisBottom(altX).tickValues(wideTicks.map(toDate)).tickFormat(dateFmt),
  d3.axisLeft(altY).tickValues(altTicks).tickFormat(d3.format("d")), true);
altG.append("text").attr("x", 431).attr("y", 1176).attr("text-anchor", "middle")
  .style("font-size", labelSize).text("UTC date");
altG.append("text").attr("transform", "translate(25,962) rotate(-90)").attr("text-anchor", "middle")
  .style("font-size", labelSize).text("Altitude (m AMSL)");

// U and V histogram
const histBox = { left: 859.5, right: 1567.5, top: 808.5, bottom: 1115 };
const histG = makePanel(histBox, "U and V Wind Components", "clip-hist");
const histX = d3.scaleLinear().domain([-100, 100]).range([histBox.left, histBox.right]);
const histY = d3.scaleLinear().domain([0, 826]).range([histBox.bottom, histBox.top]);
drawGrid(histG, histBox, histX, histY, histXTicks, histYTicks, gridColor, null, 1);
function drawBars(counts, color) {
  histG.append("g").selectAll("rect").data(binStarts).join("rect")
    .attr("x", d => histX(d)).attr("width", d => histX(d + 5) - histX(d))
    .attr("y", (d, i) => histY(counts[i]))
    .attr("height", (d, i) => histBox.bottom - histY(counts[i]))
    .attr("fill", color).attr("fill-opacity", 0.65)
    .attr("stroke", "#000").attr("stroke-opacity", 0.65).attr("stroke-width", 1.1);
}
drawBars(uCounts, "#1f77b4");
drawBars(vCounts, "#ff7f0e");
const histLegend = histG.append("g");
drawLegendBox(histLegend, 1442.5, 814, 118.5, 34);
histLegend.selectAll("rect.key").data(["#1f77b4", "#ff7f0e"]).join("rect")
  .attr("class", "key")
  .attr("x", 1446).attr("y", (d, i) => [820, 834.5][i]).attr("width", 22.5).attr("height", 8)
  .attr("fill", d => d).attr("fill-opacity", 0.65)
  .attr("stroke", "#000").attr("stroke-opacity", 0.65).attr("stroke-width", 1.1);
histLegend.selectAll("text").data(["U (zonal)", "V (meridional)"]).join("text")
  .attr("x", 1477.5).attr("y", (d, i) => [828, 842.5][i])
  .style("font-size", legendSize).text(d => d);
drawFrame(histG, histBox);
drawAxes(histG, histBox,
  d3.axisBottom(histX).tickValues(histXTicks).tickFormat(d3.format("d")),
  d3.axisLeft(histY).tickValues(histYTicks).tickFormat(d3.format("d")), false);
histG.append("text").attr("x", 1213).attr("y", 1160).attr("text-anchor", "middle")
  .style("font-size", labelSize).call(addUnitLabel);
histG.append("text").attr("transform", "translate(815,962) rotate(-90)").attr("text-anchor", "middle")
  .style("font-size", labelSize).text("Frequency");
</script>
</body>
</html>
